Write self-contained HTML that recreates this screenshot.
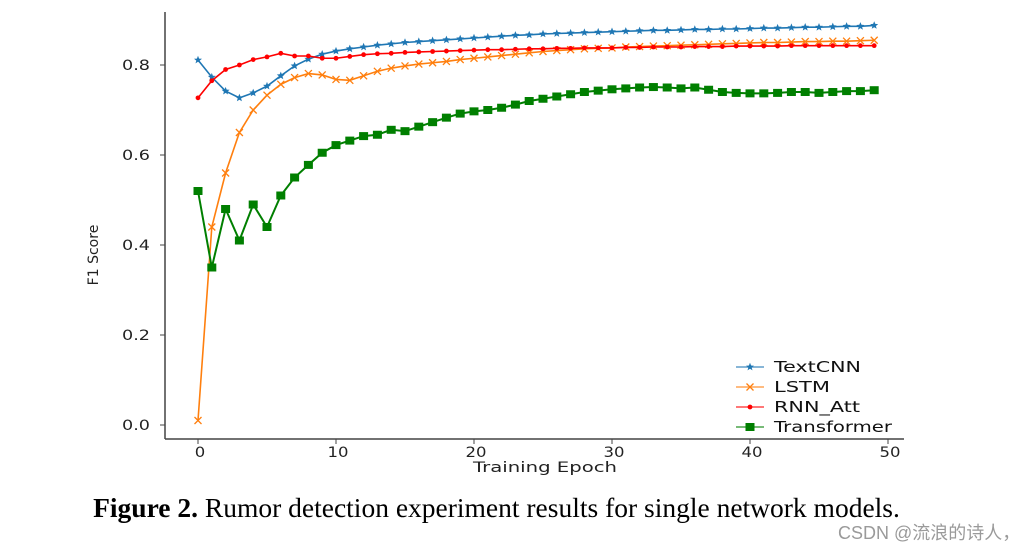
<!DOCTYPE html>
<html><head><meta charset="utf-8"><style>
body{margin:0;background:#fff;width:1036px;height:551px;overflow:hidden;position:relative;font-family:"Liberation Sans",sans-serif}
svg{position:absolute;left:0;top:0}
.cap{position:absolute;left:0;width:993px;top:492px;text-align:center;font-family:"Liberation Serif",serif;font-size:27.5px;color:#000;white-space:nowrap}
.wm{position:absolute;left:838px;top:519px;font-family:"Liberation Sans","Noto Sans CJK SC",sans-serif;font-size:18px;color:#9a9a9a;white-space:nowrap}
</style></head><body>
<svg id="chart" width="1036" height="551"></svg>
<div class="cap"><b>Figure 2.</b> Rumor detection experiment results for single network models.</div>
<div class="wm">CSDN @流浪的诗人，</div>
<script>
const epochs=[...Array(50).keys()];
const textcnn=[0.811,0.773,0.742,0.727,0.738,0.753,0.776,0.798,0.813,0.824,0.831,0.836,0.840,0.844,0.847,0.850,0.852,0.854,0.856,0.858,0.860,0.862,0.864,0.866,0.867,0.869,0.870,0.871,0.872,0.873,0.874,0.875,0.876,0.877,0.877,0.878,0.879,0.879,0.880,0.880,0.881,0.882,0.882,0.883,0.884,0.884,0.885,0.886,0.886,0.888];
const lstm=[0.01,0.44,0.56,0.65,0.70,0.733,0.757,0.772,0.781,0.778,0.768,0.766,0.776,0.786,0.793,0.798,0.802,0.805,0.808,0.812,0.815,0.818,0.821,0.824,0.827,0.830,0.832,0.834,0.836,0.837,0.838,0.840,0.841,0.842,0.843,0.844,0.845,0.846,0.847,0.848,0.849,0.850,0.850,0.851,0.852,0.852,0.853,0.853,0.854,0.855];
const rnn=[0.727,0.765,0.79,0.80,0.812,0.818,0.826,0.82,0.82,0.815,0.815,0.819,0.823,0.825,0.826,0.828,0.829,0.830,0.831,0.832,0.833,0.834,0.834,0.835,0.836,0.836,0.837,0.837,0.838,0.838,0.838,0.839,0.839,0.840,0.840,0.840,0.841,0.841,0.841,0.842,0.842,0.842,0.842,0.843,0.843,0.843,0.843,0.843,0.843,0.843];
const transformer=[0.52,0.35,0.48,0.41,0.49,0.44,0.51,0.55,0.578,0.605,0.622,0.632,0.642,0.645,0.656,0.653,0.663,0.673,0.683,0.692,0.697,0.70,0.705,0.712,0.72,0.725,0.73,0.735,0.74,0.743,0.746,0.748,0.75,0.751,0.75,0.748,0.75,0.745,0.74,0.738,0.737,0.737,0.738,0.74,0.74,0.738,0.74,0.742,0.742,0.744];
const xTicks=[0,10,20,30,40,50];
const yTicks=[0.0,0.2,0.4,0.6,0.8];
const seriesNames=["TextCNN","LSTM","RNN_Att","Transformer"];
const NS="http://www.w3.org/2000/svg",svg=document.getElementById('chart');
const X=v=>198+v*13.8, Y=v=>425-v*450;
function el(t,a,p){const e=document.createElementNS(NS,t);for(const k in a)e.setAttribute(k,a[k]);(p||svg).appendChild(e);return e;}
const F='"DejaVu Sans",sans-serif';
let ax=el('line',{x1:165,y1:12,x2:165,y2:439,stroke:'#444','stroke-width':1.5});

let bx=el('line',{x1:165,y1:439,x2:904,y2:439,stroke:'#444','stroke-width':1.5});

yTicks.forEach(v=>{el('line',{x1:160,x2:165,y1:Y(v),y2:Y(v),stroke:'#444'});
 const t=el('text',{x:122,y:Y(v)+5,'font-size':14,fill:'#222','font-family':F,textLength:28,lengthAdjust:'spacingAndGlyphs'});t.textContent=v.toFixed(1);
 });
xTicks.forEach(v=>{el('line',{x1:X(v),x2:X(v),y1:439,y2:444,stroke:'#444'});
 const w=String(v).length*10.5;
 const t=el('text',{x:X(v)+2-w/2,y:457,'font-size':14,fill:'#222','font-family':F,textLength:w,lengthAdjust:'spacingAndGlyphs'});t.textContent=v;
 });
let xt=el('text',{x:473,y:472,'font-size':14,fill:'#222','font-family':F,textLength:144,lengthAdjust:'spacingAndGlyphs'});xt.textContent='Training Epoch';

let yt=el('text',{x:0,y:0,'text-anchor':'middle','font-size':14,fill:'#222','font-family':F,transform:'translate(98,255) rotate(-90)'});yt.textContent='F1 Score';

function marker(kind,x,y,c,g){
 if(kind==='star'){const p=[];for(let i=0;i<10;i++){const r=i%2?1.8:4.2,a=-Math.PI/2+i*Math.PI/5;p.push((x+r*Math.cos(a)).toFixed(1)+','+(y+r*Math.sin(a)).toFixed(1));}el('polygon',{points:p.join(' '),fill:c},g);}
 else if(kind==='x'){el('path',{d:`M${x-3.5} ${y-3.5}L${x+3.5} ${y+3.5}M${x-3.5} ${y+3.5}L${x+3.5} ${y-3.5}`,stroke:c,'stroke-width':1.3},g);}
 else if(kind==='dot'){el('circle',{cx:x,cy:y,r:2.4,fill:c},g);}
 else {el('rect',{x:x-4.5,y:y-4,width:9,height:8,fill:c},g);}
}
const lens=[87,56,86,118];
const all=[[textcnn,'#1f77b4','star'],[lstm,'#ff7f0e','x'],[rnn,'#ff0000','dot'],[transformer,'#007f00','sq']];
all.forEach(([d,c,k],i)=>{const g=el('g',{});
 
 el('polyline',{points:d.map((v,j)=>X(epochs[j])+','+Y(v)).join(' '),fill:'none',stroke:c,'stroke-width':k==='sq'?2:1.6},g);
 d.forEach((v,j)=>marker(k,X(epochs[j]),Y(v),c,g));
 const ly=367+i*20;const lg=el('g',{});
 
 el('line',{x1:736,x2:764,y1:ly,y2:ly,stroke:c,'stroke-width':1.6,opacity:0.7},lg);marker(k,750,ly,c,lg);
 const t=el('text',{x:774,y:ly+5,'font-size':15,fill:'#111','font-family':F,textLength:lens[i],lengthAdjust:'spacingAndGlyphs'},lg);t.textContent=seriesNames[i];
});
</script>
</body></html>
